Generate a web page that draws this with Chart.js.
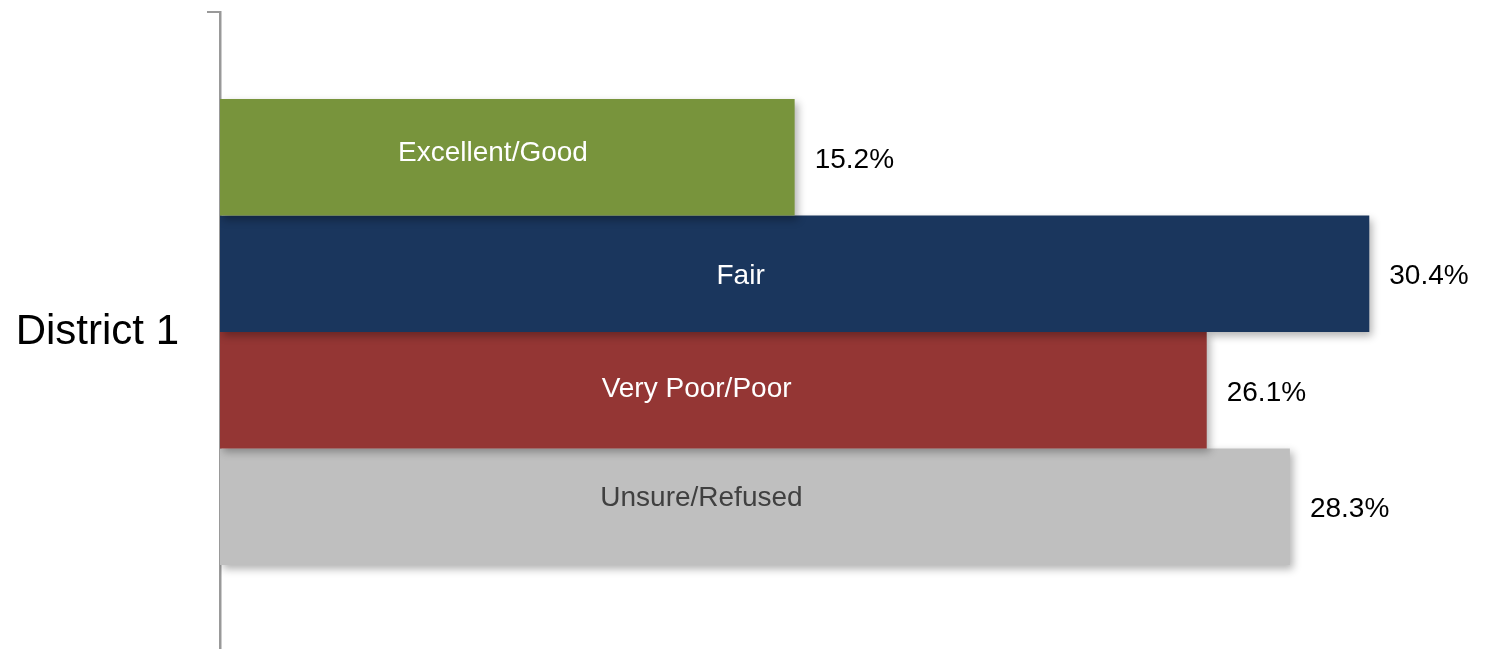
<!DOCTYPE html>
<html>
<head>
<meta charset="utf-8">
<script src="https://cdn.jsdelivr.net/npm/chart.js@4.4.0/dist/chart.umd.min.js"></script>
<style>
  html, body { margin: 0; padding: 0; background: #fff; overflow: hidden; }
  #wrap { width: 1488px; height: 652px; position: relative; }
</style>
</head>
<body>
<div id="wrap"><canvas id="chart"></canvas></div>
<script>
// data
const categories = ["District 1"];
const seriesNames = ["Excellent/Good", "Fair", "Very Poor/Poor", "Unsure/Refused"];
const excellentGood = [15.2];
const fair = [30.4];
const veryPoorPoor = [26.1];
const unsureRefused = [28.3];

const FONT = "'Liberation Sans', Arial, Helvetica, sans-serif";

const colors = ["#78943c", "#1a365d", "#943634", "#bfbfbf"];
const labelColors = ["#ffffff", "#ffffff", "#ffffff", "#404040"];
// where the name sits along the bar (fraction of bar length) and small vertical nudge
const labelPos = [0.475, 0.453, 0.483, 0.45];
const labelDy = [-4, 3, -1, -8];

// soft drop shadow under each bar
const shadowPlugin = {
  id: "barShadow",
  beforeDatasetDraw(chart) {
    const ctx = chart.ctx;
    ctx.save();
    ctx.shadowColor = "rgba(0,0,0,0.3)";
    ctx.shadowBlur = 8;
    ctx.shadowOffsetX = 3;
    ctx.shadowOffsetY = 4;
  },
  afterDatasetDraw(chart) {
    chart.ctx.restore();
  }
};

// series names inside the bars + values after the bar end
const labelPlugin = {
  id: "barLabels",
  afterDatasetsDraw(chart) {
    const ctx = chart.ctx;
    ctx.save();
    ctx.font = "28px " + FONT;
    ctx.textBaseline = "middle";
    chart.data.datasets.forEach((ds, i) => {
      const meta = chart.getDatasetMeta(i);
      meta.data.forEach((bar, j) => {
        const v = ds.data[j];
        const base = bar.base;
        // name
        ctx.fillStyle = labelColors[i];
        ctx.textAlign = "center";
        ctx.fillText(ds.label, base + (bar.x - base) * labelPos[i], bar.y + labelDy[i]);
        // value
        ctx.fillStyle = "#000";
        ctx.textAlign = "left";
        ctx.fillText(v.toFixed(1) + "%", bar.x + 20, bar.y + 3);
      });
    });
    ctx.restore();
  }
};

const seriesData = [excellentGood, fair, veryPoorPoor, unsureRefused];

new Chart(document.getElementById("chart"), {
  type: "bar",
  data: {
    labels: categories,
    datasets: seriesNames.map((name, i) => ({
      label: name,
      data: seriesData[i],
      backgroundColor: colors[i],
      borderWidth: 0,
      categoryPercentage: 0.728,
      barPercentage: 1
    }))
  },
  options: {
    indexAxis: "y",
    responsive: true,
    maintainAspectRatio: false,
    animation: false,
    layout: { padding: { top: 12, right: 0, bottom: 0, left: 0 } },
    plugins: {
      legend: { display: false },
      tooltip: { enabled: false }
    },
    scales: {
      x: {
        display: false,
        min: 0,
        max: 33.54
      },
      y: {
        afterFit(scale) {
          scale.width = 220;
          scale.paddingTop = 0;
          scale.paddingBottom = 0;
        },
        grid: {
          display: true,
          drawOnChartArea: false,
          drawTicks: true,
          tickLength: 13,
          color: "#999",
          lineWidth: 2,
          offset: true
        },
        border: { display: true, color: "#999", width: 2.5 },
        ticks: {
          color: "#000",
          padding: 28,
          font: { family: FONT, size: 42 }
        }
      }
    }
  },
  plugins: [shadowPlugin, labelPlugin]
});
</script>
</body>
</html>
